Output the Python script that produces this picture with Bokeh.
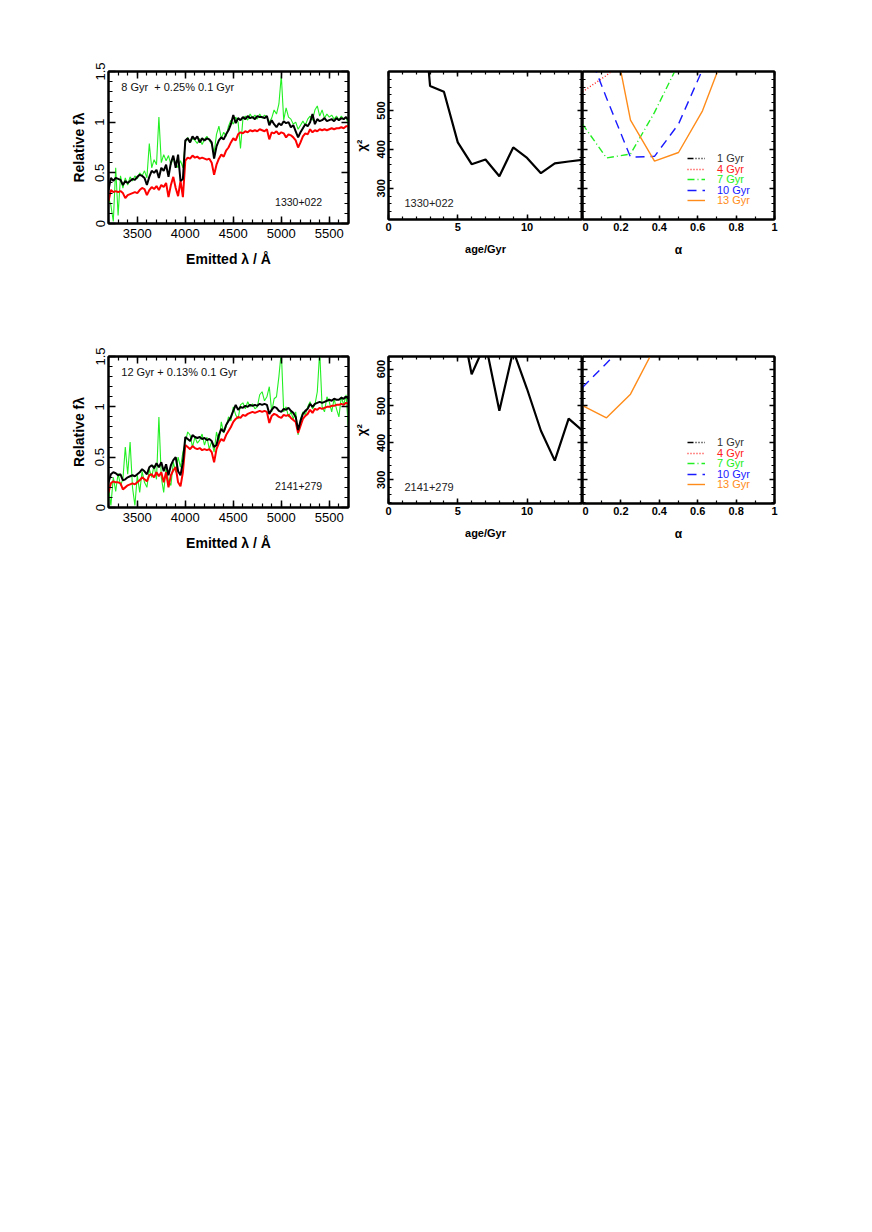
from bokeh.plotting import figure
from bokeh.layouts import row, column
from bokeh.models import (LinearAxis, FixedTicker, Range1d, Label, Legend,
                          LegendItem, CustomLabelingPolicy)
from bokeh.embed import file_html
from bokeh.resources import INLINE

# ---------------- data ----------------
wl = [3200, 3225, 3250, 3275, 3300, 3325, 3350, 3375, 3400, 3425, 3450, 3475,
      3500, 3525, 3550, 3575, 3600, 3625, 3650, 3675, 3700, 3725, 3750, 3775,
      3800, 3825, 3850, 3875, 3900, 3925, 3950, 3975, 4000, 4025, 4050, 4075,
      4100, 4125, 4150, 4175, 4200, 4225, 4250, 4275, 4300, 4325, 4350, 4375,
      4400, 4425, 4450, 4475, 4500, 4525, 4550, 4575, 4600, 4625, 4650, 4675,
      4700, 4725, 4750, 4775, 4800, 4825, 4850, 4875, 4900, 4925, 4950, 4975,
      5000, 5025, 5050, 5075, 5100, 5125, 5150, 5175, 5200, 5225, 5250, 5275,
      5300, 5325, 5350, 5375, 5400, 5425, 5450, 5475, 5500, 5525, 5550, 5575,
      5600, 5625, 5650, 5675, 5700]

# 1330+022
obs1_fit = [0.33, 0.45, 0.42, 0.45, 0.44, 0.43, 0.38, 0.42, 0.40, 0.42, 0.44, 0.43,
            0.46, 0.48, 0.47, 0.45, 0.38, 0.46, 0.52, 0.50, 0.53, 0.45, 0.55, 0.52,
            0.58, 0.46, 0.60, 0.67, 0.55, 0.68, 0.42, 0.44, 0.82, 0.84, 0.80, 0.86,
            0.83, 0.86, 0.80, 0.84, 0.82, 0.84, 0.83, 0.80, 0.64, 0.76, 0.82, 0.85,
            0.83, 0.88, 0.92, 0.98, 1.07, 0.99, 1.04, 1.02, 1.05, 1.03, 1.06, 1.04,
            1.05, 1.03, 1.06, 1.05, 1.05, 1.04, 1.06, 0.97, 1.02, 0.98, 0.95, 0.99,
            0.97, 1.01, 0.99, 1.00, 0.95, 0.97, 0.91, 0.85, 0.90, 0.94, 0.98, 0.96,
            1.00, 1.08, 0.98, 1.03, 1.01, 1.02, 1.04, 1.01, 1.02, 1.03, 1.01, 1.04,
            1.02, 1.04, 1.03, 1.05, 1.02]
obs1_old = [0.22, 0.33, 0.31, 0.32, 0.31, 0.32, 0.30, 0.25, 0.28, 0.29, 0.30, 0.31,
            0.30, 0.33, 0.35, 0.34, 0.28, 0.33, 0.36, 0.34, 0.37, 0.33, 0.38, 0.36,
            0.40, 0.26, 0.38, 0.46, 0.35, 0.27, 0.42, 0.26, 0.62, 0.65, 0.64, 0.67,
            0.65, 0.66, 0.64, 0.65, 0.64, 0.63, 0.64, 0.60, 0.48, 0.58, 0.64, 0.68,
            0.66, 0.72, 0.75, 0.80, 0.84, 0.82, 0.88, 0.90, 0.89, 0.91, 0.90, 0.92,
            0.91, 0.92, 0.91, 0.93, 0.92, 0.91, 0.93, 0.83, 0.90, 0.89, 0.91, 0.88,
            0.90, 0.89, 0.85, 0.88, 0.87, 0.85, 0.82, 0.75, 0.80, 0.86, 0.89, 0.88,
            0.93, 0.90, 0.92, 0.91, 0.93, 0.92, 0.93, 0.92, 0.93, 0.94, 0.93, 0.94,
            0.94, 0.95, 0.94, 0.96, 0.96]
obs1_data = [0.25, 0.18, 0.02, 0.55, 0.08, 0.47, 0.35, 0.45, 0.38, 0.46, 0.42, 0.47,
             0.44, 0.50, 0.47, 0.52, 0.45, 0.79, 0.55, 0.63, 0.58, 1.05, 0.60, 0.68,
             0.62, 0.67, 0.58, 0.65, 0.60, 0.55, 0.62, 0.55, 0.80, 0.85, 0.80, 0.84,
             0.82, 0.79, 0.84, 0.78, 0.83, 0.86, 0.82, 0.78, 0.70, 0.88, 0.96, 0.84,
             0.90, 0.86, 0.96, 1.02, 0.98, 1.05, 1.00, 0.74, 1.03, 1.06, 1.02, 1.08,
             1.04, 1.07, 1.03, 1.08, 1.04, 1.07, 1.05, 1.00, 1.04, 1.12, 1.08, 1.18,
             1.46, 1.02, 1.14, 1.05, 1.03, 0.98, 1.00, 0.93, 0.97, 1.01, 0.97, 1.03,
             1.06, 1.02, 1.12, 1.16, 1.06, 1.12, 1.04, 1.08, 1.05, 1.07, 1.03, 1.06,
             1.02, 1.06, 1.03, 1.05, 0.97]

# 2141+279
obs2_fit = [0.25, 0.33, 0.35, 0.34, 0.32, 0.33, 0.27, 0.28, 0.30, 0.31, 0.32, 0.31,
            0.33, 0.35, 0.38, 0.36, 0.33, 0.40, 0.42, 0.39, 0.44, 0.40, 0.45, 0.36,
            0.43, 0.32, 0.42, 0.47, 0.50, 0.36, 0.32, 0.45, 0.70, 0.68, 0.66, 0.72,
            0.70, 0.69, 0.70, 0.68, 0.69, 0.67, 0.68, 0.66, 0.60, 0.62, 0.72, 0.78,
            0.75, 0.82, 0.86, 0.90, 0.96, 1.02, 0.97, 1.00, 0.99, 1.01, 1.00, 1.02,
            1.01, 1.02, 1.01, 1.03, 1.02, 1.03, 1.02, 0.93, 0.97, 1.00, 0.99, 0.96,
            0.95, 0.98, 0.97, 0.99, 0.96, 0.94, 0.90, 0.77, 0.86, 0.93, 0.96, 0.98,
            1.03, 1.00, 1.03, 1.04, 1.05, 1.04, 1.05, 1.06, 1.07, 1.06, 1.08, 1.07,
            1.07, 1.09, 1.08, 1.10, 1.08]
obs2_old = [0.15, 0.24, 0.26, 0.25, 0.25, 0.24, 0.18, 0.20, 0.22, 0.23, 0.24, 0.23,
            0.25, 0.27, 0.30, 0.28, 0.26, 0.32, 0.33, 0.30, 0.35, 0.31, 0.35, 0.25,
            0.35, 0.20, 0.32, 0.37, 0.40, 0.25, 0.21, 0.35, 0.62, 0.60, 0.58, 0.61,
            0.59, 0.58, 0.59, 0.57, 0.58, 0.57, 0.58, 0.55, 0.45, 0.58, 0.64, 0.68,
            0.66, 0.72, 0.76, 0.80, 0.85, 0.88, 0.90, 0.89, 0.92, 0.91, 0.93, 0.94,
            0.95, 0.94, 0.95, 0.96, 0.95, 0.96, 0.95, 0.84, 0.91, 0.93, 0.92, 0.90,
            0.89, 0.92, 0.91, 0.92, 0.89, 0.87, 0.85, 0.74, 0.81, 0.88, 0.91, 0.93,
            0.97, 0.94, 0.98, 0.97, 0.99, 0.98, 0.99, 1.00, 1.00, 1.01, 1.01, 1.02,
            1.02, 1.03, 1.02, 1.04, 1.03]
obs2_data = [0.20, 0.02, 0.30, 0.16, 0.34, 0.22, 0.28, 0.60, 0.33, 0.65, 0.20, 0.02,
             0.32, 0.15, 0.36, 0.25, 0.20, 0.38, 0.30, 0.42, 0.28, 0.90, 0.30, 0.15,
             0.40, 0.26, 0.22, 0.45, 0.35, 0.50, 0.40, 0.55, 0.65, 0.75, 0.72, 0.60,
             0.70, 0.64, 0.67, 0.73, 0.62, 0.70, 0.58, 0.66, 0.55, 0.75, 0.65, 0.85,
             0.74, 0.80, 0.90, 0.86, 1.00, 0.92, 0.88, 1.02, 1.04, 0.98, 1.05, 1.00,
             1.03, 0.98, 1.00, 1.12, 1.15, 1.06, 1.10, 1.20, 0.95, 1.08, 1.10, 1.30,
             1.55, 0.95, 1.00, 0.90, 0.95, 0.88, 0.95, 0.72, 0.88, 0.95, 0.92, 1.00,
             1.05, 0.98, 1.02, 1.15, 1.55, 1.00, 0.95, 1.10, 1.05, 0.95, 1.08, 0.98,
             0.90, 1.10, 1.02, 1.12, 0.78]

# chi^2 versus age
age1 = [2, 3, 4, 5, 6, 7, 8, 9, 10, 11, 12, 13, 14]
chi_age1 = [970, 563, 548, 418, 362, 374, 331, 405, 378, 339, 364, 369, 373]
age2 = [5, 6, 7, 8, 9, 10, 11, 12, 13, 14]
chi_age2 = [778, 586, 670, 487, 650, 546, 433, 352, 466, 433]

# chi^2 versus alpha, per age of the old population (NaN = off the plot)
NAN = float("nan")
alpha_1_1 = [0.0]
chi_1_1 = [NAN]
alpha_1_4 = [0.0, 0.125, 0.25]
chi_1_4 = [548, 590, 640]
alpha_1_7 = [0.0, 0.125, 0.25, 0.375, 0.5]
chi_1_7 = [465, 378, 388, 495, 620]
alpha_1_10 = [0.0, 0.125, 0.25, 0.375, 0.5, 0.625]
chi_1_10 = [690, 532, 380, 382, 465, 605]
alpha_1_13 = [0.125, 0.25, 0.375, 0.5, 0.625, 0.75]
chi_1_13 = [787, 475, 370, 392, 499, 661]

alpha_2_1 = [0.0]
chi_2_1 = [NAN]
alpha_2_4 = [0.0]
chi_2_4 = [NAN]
alpha_2_7 = [0.0]
chi_2_7 = [NAN]
alpha_2_10 = [0.0, 0.125, 0.25]
chi_2_10 = [550, 616, 682]
alpha_2_13 = [0.0, 0.125, 0.25, 0.375]
chi_2_13 = [501, 468, 532, 657]

age_labels = ["1 Gyr", "4 Gyr", "7 Gyr", "10 Gyr", "13 Gyr"]
age_colors = ["#000000", "#ff2020", "#22ee22", "#1a1aff", "#ff8c1a"]
age_dashes = ["6 2 1 2 1 2 1 2", "1 2", "7 3 1 3", "9 6", "solid"]

FONT = "Liberation Sans"
NO_LABELS = "for (const i of Array.from(indices)) { indices.unset(i) }\nreturn indices"


def axis(p, loc, major, minor, tin, mtin, labels=False, size="13px",
         bold=False, orient=None, standoff=4, overrides=None, title=None,
         tsize="14px", tstand=6):
    ax = LinearAxis(ticker=FixedTicker(ticks=major, minor_ticks=minor))
    ax.major_tick_in = tin
    ax.major_tick_out = 0
    ax.minor_tick_in = mtin
    ax.minor_tick_out = 0
    ax.major_tick_line_width = 1.5
    ax.minor_tick_line_width = 1.2
    ax.axis_line_width = 2
    ax.axis_line_color = "black"
    if labels:
        ax.major_label_text_font = FONT
        ax.major_label_text_font_size = size
        ax.major_label_text_font_style = "bold" if bold else "normal"
        ax.major_label_text_color = "black"
        ax.major_label_standoff = standoff
        if orient is not None:
            ax.major_label_orientation = orient
        if overrides:
            ax.major_label_overrides = overrides
    else:
        ax.major_label_policy = CustomLabelingPolicy(code=NO_LABELS)
        ax.major_label_text_font_size = "0px"
        ax.major_label_standoff = 0
    if title:
        ax.axis_label = title
        ax.axis_label_text_font = FONT
        ax.axis_label_text_font_size = tsize
        ax.axis_label_text_font_style = "bold"
        ax.axis_label_text_color = "black"
        ax.axis_label_standoff = tstand
    p.add_layout(ax, loc)
    return ax


def base(xr, yr, fw, fh, bl, br, bt, bb):
    p = figure(frame_width=fw, frame_height=fh, x_range=Range1d(*xr),
               y_range=Range1d(*yr), x_axis_type=None, y_axis_type=None,
               min_border_left=bl, min_border_right=br, min_border_top=bt,
               min_border_bottom=bb, output_backend="svg",
               toolbar_location=None)
    p.grid.visible = False
    p.outline_line_color = "black"
    p.outline_line_width = 2
    p.background_fill_color = "white"
    p.border_fill_color = "white"
    return p


def spectrum(fit, old, data, top, fh, bottom, note, name):
    p = base((3200, 5700), (0, 1.5), 240, fh, 108, 2, top, bottom)
    xmaj = [3500, 4000, 4500, 5000, 5500]
    xmin = list(range(3200, 5701, 100))
    ymaj = [0, 0.5, 1, 1.5]
    ymin = [i / 10 for i in range(0, 16)]
    axis(p, "below", xmaj, xmin, 7, 4, labels=True, standoff=5,
         title="Emitted \u03bb / \u00c5", tstand=10)
    axis(p, "left", ymaj, ymin, 7, 4, labels=True, orient="vertical",
         standoff=4, overrides={0: "0", 0.5: "0.5", 1: "1", 1.5: "1.5"},
         title="Relative f\u03bb", tstand=6)
    axis(p, "above", xmaj, xmin, 7, 4)
    axis(p, "right", ymaj, ymin, 7, 4)
    p.line(wl, data, color="#22f022", line_width=1.1)
    p.line(wl, old, color="#ff0000", line_width=2)
    p.line(wl, fit, color="black", line_width=2)
    p.add_layout(Label(x=3333, y=1.345, text=note, text_font=FONT,
                       text_font_size="11px", text_baseline="middle",
                       text_color="#111111"))
    p.add_layout(Label(x=4935, y=0.215, text=name, text_font=FONT,
                       text_font_size="10.5px", text_baseline="middle",
                       text_color="#111111"))
    return p


def chi_age(ages, chis, yr, ymaj, top, fh, bottom, name, ny):
    p = base((0, 14), yr, 194, fh, 37, 0, top, bottom)
    ymin = list(range(200, 700, 20))
    axis(p, "below", [0, 5, 10], list(range(0, 15)), 5, 3, labels=True,
         size="11px", bold=True, standoff=3, title="age/Gyr",
         tsize="11px", tstand=9)
    axis(p, "left", ymaj, ymin, 5, 3, labels=True, size="11px", bold=True,
         orient="vertical", standoff=3, title="\u03c7\u00b2", tsize="13px",
         tstand=6)
    axis(p, "above", [0, 5, 10], list(range(0, 15)), 5, 3)
    axis(p, "right", ymaj, ymin, 5, 3)
    p.line(ages, chis, color="black", line_width=2.2)
    p.add_layout(Label(x=1.15, y=ny, text=name, text_font=FONT,
                       text_font_size="11px", text_baseline="middle",
                       text_color="#222222"))
    return p


def chi_alpha(series, yr, ymaj, top, fh, bottom):
    p = base((0, 1), yr, 192, fh, 0, 20, top, bottom)
    ymin = list(range(200, 700, 20))
    xmaj = [0, 0.2, 0.4, 0.6, 0.8, 1.0]
    xmin = [i / 10 for i in range(0, 11)]
    axis(p, "below", xmaj, xmin, 4, 3, labels=True, size="11px", bold=True,
         standoff=3, overrides={0: "0", 1: "1"}, title="\u03b1",
         tsize="12px", tstand=9)
    axis(p, "left", ymaj, ymin, 5, 3)
    axis(p, "above", xmaj, xmin, 4, 3)
    axis(p, "right", ymaj, ymin, 5, 3)
    offs = [55, 44, 34, 23, 13]
    for (xs, ys), lab, col, dash, off in zip(series, age_labels, age_colors,
                                             age_dashes, offs):
        r = p.line(xs, ys, color=col, line_width=1.4, line_dash=dash)
        lg = Legend(items=[LegendItem(label=lab, renderers=[r])],
                    location=(105, off), padding=0, margin=0, spacing=0,
                    glyph_width=18, glyph_height=10, label_height=10,
                    label_standoff=12, label_text_font=FONT,
                    label_text_font_size="11px",
                    label_text_color=("#333333" if col == "#000000" else col),
                    border_line_color=None, background_fill_alpha=0)
        p.add_layout(lg, "center")
    return p


s1 = spectrum(obs1_fit, obs1_old, obs1_data, 71, 152, 115,
              "8 Gyr\u00a0\u00a0+ 0.25% 0.1 Gyr", "1330+022")
a1 = chi_age(age1, chi_age1, (220, 600), [300, 400, 500], 70, 148, 120,
             "1330+022", 262)
c1 = chi_alpha([(alpha_1_1, chi_1_1), (alpha_1_4, chi_1_4),
                (alpha_1_7, chi_1_7), (alpha_1_10, chi_1_10),
                (alpha_1_13, chi_1_13)],
               (220, 600), [300, 400, 500], 70, 148, 120)

s2 = spectrum(obs2_fit, obs2_old, obs2_data, 13, 151, 60,
              "12 Gyr + 0.13% 0.1 Gyr", "2141+279")
a2 = chi_age(age2, chi_age2, (236, 634), [300, 400, 500, 600], 18, 147, 59,
             "2141+279", 280)
c2 = chi_alpha([(alpha_2_1, chi_2_1), (alpha_2_4, chi_2_4),
                (alpha_2_7, chi_2_7), (alpha_2_10, chi_2_10),
                (alpha_2_13, chi_2_13)],
               (236, 634), [300, 400, 500, 600], 18, 147, 59)

layout = column(row(s1, a1, c1), row(s2, a2, c2))

open("out.html", "w").write(file_html(layout, INLINE))
